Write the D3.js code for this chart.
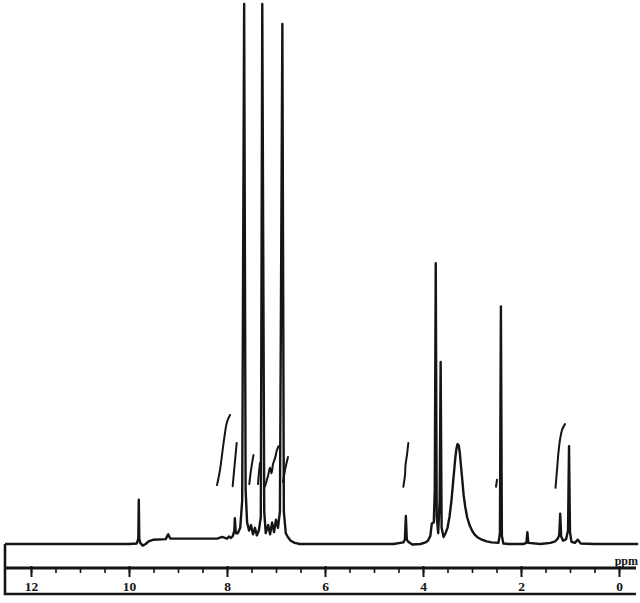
<!DOCTYPE html>
<html>
<head>
<meta charset="utf-8">
<script src="https://cdn.jsdelivr.net/npm/d3@7/dist/d3.min.js"></script>
<style>
  body { margin: 0; background: #fff; }
  svg { display: block; }
</style>
</head>
<body>
<div id="chart"></div>
<script>
// 1H NMR trace: [shift (ppm), intensity (0-100)]
const spectrum = [
  [12.53, 0], [10.0, 0], [9.84, 0.1], [9.81, 1], [9.80, 8.2], [9.79, 1], [9.77, 0.2],
  [9.72, -0.3], [9.66, 0], [9.60, 0.5], [9.50, 0.8], [9.25, 0.9], [9.22, 1.5],
  [9.20, 1.8], [9.17, 1.2], [9.15, 1.0], [8.60, 1.0],
  [8.20, 1.0], [8.10, 1.3], [8.00, 1.0], [7.96, 1.4], [7.92, 1.1], [7.88, 1.5],
  [7.85, 2.5], [7.84, 4.8], [7.82, 2.0], [7.78, 2.0], [7.73, 3.0], [7.69, 8], [7.65, 100], [7.62, 10],
  [7.59, 4], [7.55, 2.5], [7.51, 3.5], [7.47, 1.8], [7.43, 3.0], [7.39, 1.6],
  [7.35, 2.5], [7.31, 5], [7.28, 100], [7.24, 6], [7.21, 2], [7.16, 3.5],
  [7.12, 1.8], [7.08, 4], [7.04, 2.2], [7.00, 4.5], [6.96, 3], [6.92, 6],
  [6.87, 96.3], [6.84, 6], [6.80, 2], [6.76, 1.3], [6.70, 0.6], [6.62, 0.2], [6.51, 0],
  [4.60, 0], [4.40, 0.3], [4.37, 0.8], [4.35, 5.2], [4.33, 0.8], [4.30, 0.4],
  [4.22, -0.1], [4.05, 0], [3.95, 0.3], [3.90, 0.6], [3.85, 1.5], [3.82, 3.8],
  [3.78, 4], [3.76, 10], [3.74, 52], [3.72, 5], [3.69, 2], [3.66, 8], [3.64, 33.7],
  [3.62, 3], [3.58, 1.3], [3.54, 2], [3.50, 3], [3.46, 5], [3.42, 8], [3.39, 11],
  [3.36, 14], [3.34, 16], [3.32, 17.5], [3.30, 18.4], [3.29, 18.5], [3.27, 18.2],
  [3.25, 17], [3.23, 15], [3.20, 12], [3.17, 9], [3.14, 7], [3.10, 5], [3.05, 3.5],
  [3.00, 2.5], [2.95, 1.8], [2.88, 1.2], [2.80, 0.8], [2.70, 0.5], [2.60, 0.3],
  [2.46, 0.2], [2.43, 2], [2.41, 44], [2.39, 1.5], [2.36, 0.1], [2.25, 0], [1.95, 0],
  [1.89, 0.2], [1.87, 2.2], [1.85, 0.2], [1.60, 0], [1.40, 0.2], [1.30, 0.5],
  [1.25, 1.0], [1.22, 1.6], [1.20, 5.6], [1.18, 1.4], [1.14, 0.6], [1.08, 0.9],
  [1.04, 2.5], [1.02, 18.1], [1.00, 2.2], [0.97, 0.4], [0.90, 0.2], [0.84, 0.8],
  [0.78, 0.1], [0.50, 0], [-0.39, 0]
];

// integration steps drawn over the multiplets: [shift, level]
const integrals = [
  [[8.204, 10.9], [8.143, 13.7], [8.061, 19.3], [8.0, 22.6], [7.939, 23.9]],
  [[7.884, 10.7], [7.847, 14.4], [7.802, 18.7]],
  [[7.545, 11.1], [7.51, 13.7], [7.459, 16.5]],
  [[7.367, 11.1], [7.347, 13.3], [7.327, 15.0]],
  [[7.224, 10.7], [7.163, 12.6], [7.122, 14.1], [7.092, 13.1], [7.061, 14.8],
   [7.02, 15.9], [6.98, 17.4], [6.949, 18.1]],
  [[6.857, 11.5], [6.816, 13.7], [6.755, 16.1]],
  [[4.402, 10.6], [4.367, 12.8], [4.357, 14.6], [4.327, 16.5], [4.30, 18.7]],
  [[2.51, 10.6], [2.49, 11.9]],
  [[1.296, 10.4], [1.265, 13.7], [1.235, 17.0], [1.204, 19.3], [1.163, 21.1], [1.102, 22.2]]
];

const majorTicks = [12, 10, 8, 6, 4, 2, 0];
const minorTicks = d3.range(0, 12.01, 0.5);

const width = 640, height = 603;
const ink = "#151515";

const svg = d3.select("#chart").append("svg")
  .attr("width", width)
  .attr("height", height);

const x = d3.scaleLinear().domain([12, 0]).range([31, 619]);
const y = d3.scaleLinear().domain([0, 100]).range([544, 4]);

// frame: left edge, axis rail, bottom rule
const axisY = 568, bottomY = 594;
svg.append("path")
  .attr("d", `M5,${y(0)} V${bottomY} H636`)
  .attr("fill", "none").attr("stroke", ink).attr("stroke-width", 2.6);
svg.append("line")
  .attr("x1", 5).attr("x2", 636).attr("y1", axisY).attr("y2", axisY)
  .attr("stroke", ink).attr("stroke-width", 3);

// spectrum trace
const line = d3.line()
  .x(d => x(d[0]))
  .y(d => y(d[1]));

svg.append("path")
  .datum(spectrum)
  .attr("d", line)
  .attr("fill", "none")
  .attr("stroke", ink)
  .attr("stroke-width", 2.4)
  .attr("stroke-linejoin", "round");

// integral curves
svg.append("g").selectAll("path")
  .data(integrals)
  .join("path")
  .attr("d", d3.line().x(d => x(d[0])).y(d => y(d[1])).curve(d3.curveCatmullRom))
  .attr("fill", "none")
  .attr("stroke", ink)
  .attr("stroke-width", 2)
  .attr("stroke-linecap", "round");

// minor ticks
const minorAxis = svg.append("g")
  .attr("transform", `translate(0,${axisY})`)
  .call(d3.axisBottom(x).tickValues(minorTicks).tickSize(5).tickFormat(""));
minorAxis.select(".domain").remove();
minorAxis.selectAll(".tick line").attr("stroke", ink).attr("stroke-width", 1.6);

// major ticks + labels
const majorAxis = svg.append("g")
  .attr("transform", `translate(0,${axisY})`)
  .call(d3.axisBottom(x).tickValues(majorTicks).tickSize(9).tickFormat(d3.format("d")));
majorAxis.select(".domain").remove();
majorAxis.selectAll(".tick line")
  .attr("y1", -2)
  .attr("stroke", ink).attr("stroke-width", 2);
majorAxis.selectAll(".tick text")
  .attr("y", 23).attr("dy", 0)
  .attr("fill", ink)
  .style("font-family", "'Liberation Serif', 'DejaVu Serif', serif")
  .style("font-weight", "bold")
  .style("font-size", "13.5px");

svg.append("text")
  .attr("x", 638).attr("y", 565)
  .attr("text-anchor", "end")
  .attr("fill", ink)
  .style("font-family", "'Liberation Serif', 'DejaVu Serif', serif")
  .style("font-weight", "bold")
  .style("font-size", "12px")
  .text("ppm");
</script>
</body>
</html>
